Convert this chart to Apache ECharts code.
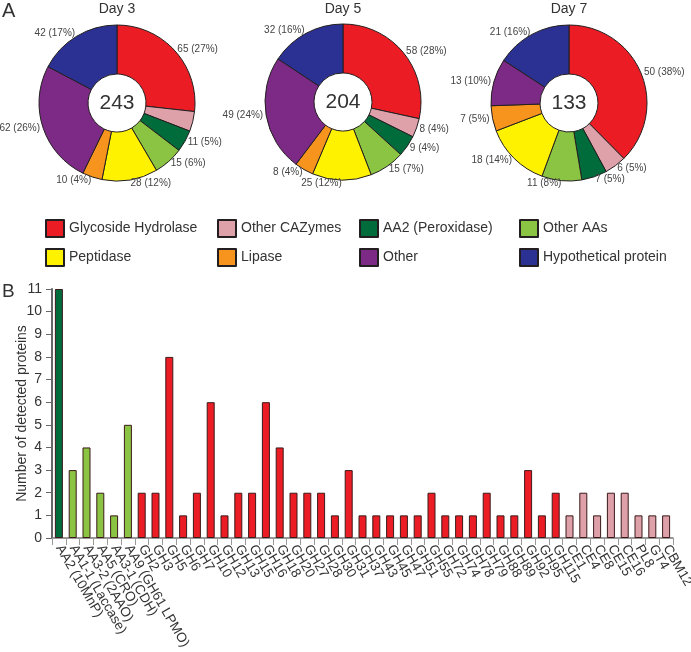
<!DOCTYPE html>
<html>
<head>
<meta charset="utf-8">
<script src="https://cdn.jsdelivr.net/npm/echarts@6/dist/echarts.min.js"></script>
<style>
html,body{margin:0;padding:0;background:#fff;}
#chart{width:691px;height:652px;}
</style>
</head>
<body>
<div id="chart"></div>
<script>
// ---- data ----
const pieCategories = ['Glycoside Hydrolase','Other CAZymes','AA2 (Peroxidase)','Other AAs','Peptidase','Lipase','Other','Hypothetical protein'];
const dayTitles = ['Day 3','Day 5','Day 7'];
const day3 = [65,10,11,15,28,10,62,42];
const day5 = [58,8,9,15,25,8,49,32];
const day7 = [50,6,7,11,18,7,13,21];

const families = ['AA2 (10MnP)','AA1-1 (Laccase)','AA3-2 (2AAO)','AA5 (CRO)','AA3-1 (CDH)','AA9 (GH61 LPMO)',
  'GH2','GH3','GH5','GH6','GH7','GH10','GH12','GH13','GH15','GH16','GH18','GH20','GH27','GH28','GH30','GH31',
  'GH37','GH43','GH45','GH47','GH51','GH55','GH72','GH74','GH78','GH79','GH88','GH89','GH92','GH95','GH115',
  'CE1','CE4','CE8','CE15','CE16','PL8','GT4','CBM12'];
const counts = [11,3,4,2,1,5,
  2,2,8,1,2,6,1,2,2,6,4,2,2,2,1,3,
  1,1,1,1,1,2,1,1,1,2,1,1,3,1,2,
  1,2,1,2,2,1,1,1];
const familyGroup = ['AA2 (Peroxidase)','Other AAs','Other AAs','Other AAs','Other AAs','Other AAs',
  'Glycoside Hydrolase','Glycoside Hydrolase','Glycoside Hydrolase','Glycoside Hydrolase','Glycoside Hydrolase','Glycoside Hydrolase','Glycoside Hydrolase','Glycoside Hydrolase','Glycoside Hydrolase','Glycoside Hydrolase','Glycoside Hydrolase','Glycoside Hydrolase','Glycoside Hydrolase','Glycoside Hydrolase','Glycoside Hydrolase','Glycoside Hydrolase',
  'Glycoside Hydrolase','Glycoside Hydrolase','Glycoside Hydrolase','Glycoside Hydrolase','Glycoside Hydrolase','Glycoside Hydrolase','Glycoside Hydrolase','Glycoside Hydrolase','Glycoside Hydrolase','Glycoside Hydrolase','Glycoside Hydrolase','Glycoside Hydrolase','Glycoside Hydrolase','Glycoside Hydrolase','Glycoside Hydrolase',
  'Other CAZymes','Other CAZymes','Other CAZymes','Other CAZymes','Other CAZymes','Other CAZymes','Other CAZymes','Other CAZymes'];
const yAxisTitle = 'Number of detected proteins';

// ---- styling ----
const FONT = '"Liberation Sans", Arial, sans-serif';
const palette = ['#ec1c24','#dea0a9','#006b3b','#8bc443','#fff200','#f7941d','#7d2a86','#2b3192'];
const colorOf = {};
pieCategories.forEach((c,i)=>colorOf[c]=palette[i]);

const pieCenters = [[117,103],[343,102],[569,103]];
const dayData = [day3, day5, day7];

const pieSeries = dayData.map((vals, k) => {
  const total = vals.reduce((a,b)=>a+b,0);
  return {
    type: 'pie',
    name: dayTitles[k],
    center: pieCenters[k],
    radius: [29, 78],
    startAngle: 90,
    clockwise: true,
    avoidLabelOverlap: false,
    silent: true,
    itemStyle: {borderColor: '#231f20', borderWidth: 1},
    label: {
      show: true,
      position: 'outside',
      distanceToLabelLine: 0,
      fontFamily: FONT,
      fontSize: 10,
      color: '#444',
      formatter: p => p.value + ' (' + Math.round(p.value / total * 100) + '%)'
    },
    labelLine: {show: false, length: 3, length2: 0},
    emphasis: {disabled: true},
    data: vals.map((v,i)=>({name: pieCategories[i], value: v}))
  };
});

const legendPos = [[45,219],[217,219],[359,219],[519,219],[45,248],[217,248],[359,248],[519,248]];
const legends = pieCategories.map((c,i)=>({
  data: [c],
  left: legendPos[i][0],
  top: legendPos[i][1],
  padding: 0,
  itemWidth: 18,
  itemHeight: 17,
  itemGap: 0,
  icon: 'rect',
  selectedMode: false,
  textStyle: {fontFamily: FONT, fontSize: 14, color: '#333'}
}));

const graphics = [];
dayData.forEach((vals,k)=>{
  const total = vals.reduce((a,b)=>a+b,0);
  graphics.push({type:'text', x: pieCenters[k][0], y: pieCenters[k][1], z: 100,
    style:{text: String(total), fontFamily: FONT, fontSize: 21, fill:'#333', textAlign:'center', textVerticalAlign:'middle'}});
  graphics.push({type:'text', x: pieCenters[k][0], y: 9,
    style:{text: dayTitles[k], fontFamily: FONT, fontSize: 14, fill:'#333', textAlign:'center', textVerticalAlign:'middle'}});
});
graphics.push({type:'text', x: 2, y: 11, style:{text:'A', fontFamily: FONT, fontSize: 20, fill:'#333', textVerticalAlign:'middle'}});
graphics.push({type:'text', x: 2, y: 292, style:{text:'B', fontFamily: FONT, fontSize: 19, fill:'#333', textVerticalAlign:'middle'}});

const option = {
  animation: false,
  backgroundColor: '#fff',
  color: palette,
  textStyle: {fontFamily: FONT},
  legend: legends,
  graphic: graphics,
  grid: {left: 52, right: 18, top: 289, bottom: 114, containLabel: false, outerBoundsMode: 'none'},
  xAxis: {
    type: 'category',
    data: families,
    axisLine: {lineStyle: {color: '#777', width: 1.5}},
    axisTick: {show: true, length: 7, lineStyle: {color: '#999'}},
    axisLabel: {interval: 0, rotate: -60, margin: 8, fontFamily: FONT, fontSize: 13.5, color: '#333', hideOverlap: false}
  },
  yAxis: {
    type: 'value',
    min: 0, max: 11, interval: 1,
    name: yAxisTitle,
    nameLocation: 'middle',
    nameGap: 23,
    nameMoveOverlap: false,
    nameTextStyle: {fontFamily: FONT, fontSize: 14, color: '#333'},
    axisLine: {show: true, lineStyle: {color: '#666', width: 2}},
    axisTick: {show: true, length: 6, lineStyle: {color: '#666'}},
    axisLabel: {margin: 10, fontFamily: FONT, fontSize: 14, color: '#333'},
    splitLine: {show: false}
  },
  series: pieSeries.concat([{
    type: 'bar',
    barWidth: 8,
    silent: true,
    data: counts.map((v,i)=>({value: v, itemStyle: {color: colorOf[familyGroup[i]]}})),
    itemStyle: {borderColor: '#3b1a1a', borderWidth: 1}
  }])
};

const chart = echarts.init(document.getElementById('chart'), null, {renderer: 'canvas'});
chart.setOption(option);
</script>
</body>
</html>
